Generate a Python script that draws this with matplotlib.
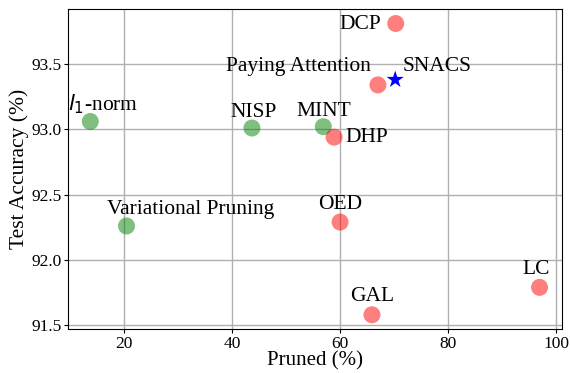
import matplotlib
matplotlib.use("Agg")
import matplotlib.pyplot as plt

plt.rcParams['font.family'] = ['Liberation Serif', 'DejaVu Serif']

# data
green_names = ["$l_1$-norm", "Variational Pruning", "NISP", "MINT"]
green_pruned = [13.8, 20.5, 43.7, 56.9]
green_acc = [93.06, 92.26, 93.01, 93.02]

red_names = ["DHP", "OED", "GAL", "LC", "DCP", "Paying Attention"]
red_pruned = [58.9, 60.0, 65.9, 96.9, 70.3, 67.0]
red_acc = [92.94, 92.29, 91.58, 91.79, 93.81, 93.34]

star_name = "SNACS"
star_pruned = 70.2
star_acc = 93.38

# label placement (offset pixels, ha) -- baseline aligned
label_style = {
    "$l_1$-norm": (13, 11, 'center'),
    "Variational Pruning": (64, 11.5, 'center'),
    "NISP": (2, 11, 'center'),
    "MINT": (1, 11, 'center'),
    "DHP": (11, -5, 'left'),
    "OED": (0, 13.5, 'center'),
    "GAL": (0, 13.5, 'center'),
    "LC": (-3, 13, 'center'),
    "DCP": (-15, -5.5, 'right'),
    "Paying Attention": (-7, 13.5, 'right'),
    "SNACS": (7, 8.5, 'left'),
}

fig = plt.figure(figsize=(5.7, 3.73), dpi=100)
ax = fig.add_axes([0.119, 0.117, 0.867, 0.859])
ax.grid(True, color='#b0b0b0', linewidth=1.0)
ax.set_axisbelow(True)

ax.scatter(green_pruned, green_acc, s=150, color='green', alpha=0.5, edgecolors='none', zorder=3)
ax.scatter(red_pruned, red_acc, s=150, color='red', alpha=0.5, edgecolors='none', zorder=3)
ax.scatter([star_pruned], [star_acc], s=170, color='blue', marker='*', edgecolors='none', zorder=4)

def label(name, x, y):
    dx, dy, ha = label_style[name]
    ax.annotate(name, (x, y), xytext=(dx, dy), textcoords='offset pixels',
                ha=ha, va='baseline', fontsize=15.5, zorder=5)

for n, x, y in zip(green_names, green_pruned, green_acc):
    label(n, x, y)
for n, x, y in zip(red_names, red_pruned, red_acc):
    label(n, x, y)
label(star_name, star_pruned, star_acc)

ax.set_xticks([20, 40, 60, 80, 100])
ax.set_yticks([91.5, 92.0, 92.5, 93.0, 93.5])
ax.tick_params(labelsize=12.5, length=3, pad=1.5)
ax.set_xlabel("Pruned (%)", fontsize=15, labelpad=0)
ax.set_ylabel("Test Accuracy (%)", fontsize=15.5, labelpad=2)

fig.savefig("out.png", dpi=100)
